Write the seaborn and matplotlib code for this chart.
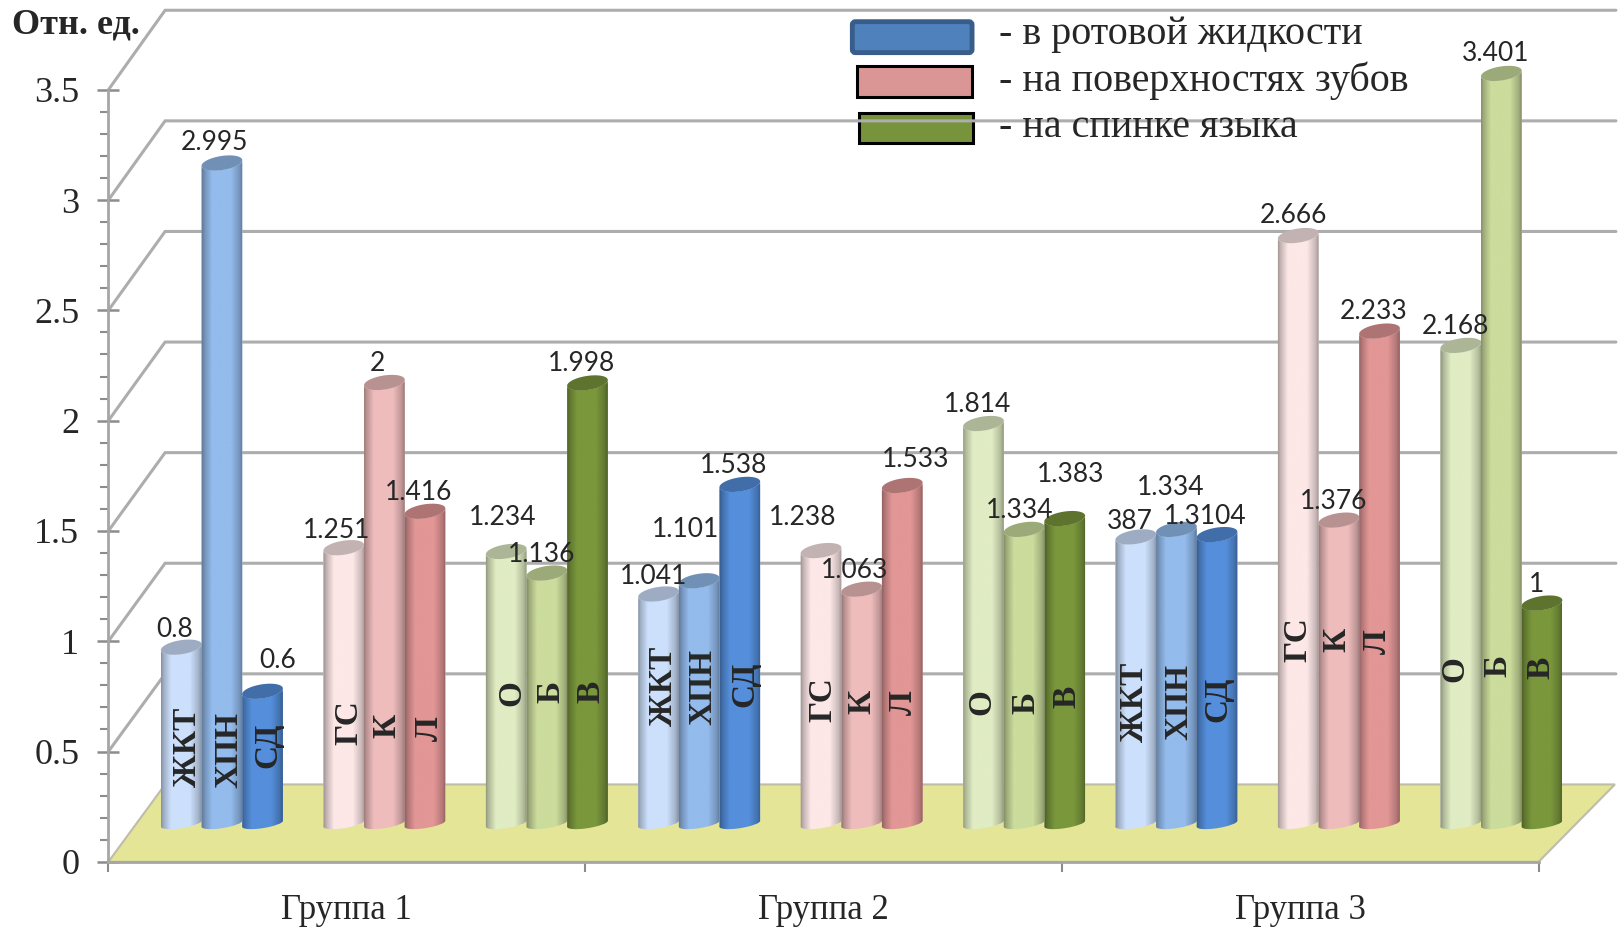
import numpy as np
import seaborn as sns
import matplotlib.pyplot as plt
from matplotlib.colors import to_rgb
from matplotlib.patches import Polygon, Rectangle, FancyBboxPatch
from matplotlib.ticker import MultipleLocator

# values, left to right
values = [0.8, 2.995, 0.6, 1.251, 2, 1.416, 1.234, 1.136, 1.998,
          1.041, 1.101, 1.538, 1.238, 1.063, 1.533, 1.814, 1.334, 1.383,
          1.30, 1.334, 1.3104, 2.666, 1.376, 2.233, 2.168, 3.401, 1]
value_labels = ['0.8', '2.995', '0.6', '1.251', '2', '1.416', '1.234', '1.136', '1.998',
                '1.041', '1.101', '1.538', '1.238', '1.063', '1.533', '1.814', '1.334', '1.383',
                '387', '1.334', '1.3104', '2.666', '1.376', '2.233', '2.168', '3.401', '1']
bar_names = ['ЖКТ', 'ХПН', 'СД', 'ГС', 'К', 'Л', 'О', 'Б', 'В']
groups = ['Группа 1', 'Группа 2', 'Группа 3']
legend_labels = ['- в ротовой жидкости', '- на поверхностях зубов', '- на спинке языка']
y_ticks = ['0', '0.5', '1', '1.5', '2', '2.5', '3', '3.5']
colors = ['#CCE0FC', '#93BBEC', '#558FDC', '#FDE7E7', '#EFBCBC', '#E29696',
          '#E0ECC3', '#CBDC9C', '#7A973C']

# label nudges from the bar top, in reference pixels
label_dx = [-6, -7, 15, -6.5, -6.5, -6, -3.5, -5.5, -6, -5, -13, -6, -18, -6.5, 12.5,
            -5.5, -4.5, 6, -6, -5.5, -11.5, -5, -5.5, -6, -5.5, -5.5, -5]
label_dy = [-22, -25, -35, -22, -23, -23, -38, -23, -24, -22, -55, -23, -37, -23, -30,
            -23, -23, -48, -20, -46, -23, -24, -23, -24, -23.5, -24, -23]
name_xy = [(182, 724), (222, 727), (260, 722), (338, 700), (375, 703), (416, 706),
           (496, 671), (534, 670), (573, 670), (643, 665), (681, 666), (722, 663),
           (797, 678), (835, 680), (875, 681), (952, 680), (994, 681), (1034, 675),
           (1099, 680), (1142, 680), (1180, 677), (1258, 620), (1296, 620), (1335, 622),
           (1410, 648), (1452, 645), (1493, 647)]

sns.set_style('white')
plt.rcParams['font.family'] = ['Liberation Serif', 'DejaVu Serif']

W, H = 1568, 902
fig = plt.figure(figsize=(16.18, 9.31), dpi=100)


def box(x0, y0, x1, y1):
    # rectangle in reference pixels -> figure fractions
    return [x0 / W, 1 - y1 / H, (x1 - x0) / W, (y1 - y0) / H]


# wall and floor
bg = fig.add_axes([0, 0, 1, 1], zorder=0)
bg.set_xlim(0, W)
bg.set_ylim(H, 0)
bg.axis('off')
bg.add_patch(Polygon([(105, 835), (160, 760), (1565, 760), (1491, 835)],
                     fc='#E5E597', ec='#BDBDA8', lw=1.5, zorder=1))
for i in range(1, len(y_ticks)):
    yf = 835 - i * 106.85
    yb = 760 - i * 107.15
    bg.plot([105, 160, 1566], [yf, yb, yb], color='#ADADAD', lw=2.2, zorder=3,
            solid_joinstyle='miter')

# legend swatches
bg.add_patch(FancyBboxPatch((828, 23), 112, 26, boxstyle='round,pad=2,rounding_size=3',
                            fc='#4F81BD', ec='#385D8A', lw=3.5, zorder=2))
bg.add_patch(Rectangle((831, 64), 111, 30, fc='#D99694', ec='black', lw=2.2, zorder=2))
bg.add_patch(Rectangle((832, 109), 111, 30, fc='#77933C', ec='black', lw=2.2, zorder=2))

# front axis
ax0 = fig.add_axes(box(105, 87, 1491, 835), zorder=1)
ax0.patch.set_alpha(0)
ax0.set_xlim(0, 3)
ax0.set_ylim(0, 3.5)
ax0.set_yticks(np.arange(0, 3.6, 0.5))
ax0.set_yticklabels(y_ticks, family='Liberation Serif')
ax0.yaxis.set_minor_locator(MultipleLocator(0.1))
ax0.set_xticks([0, 1, 2, 3])
ax0.set_xticklabels([])
ax0.set_xticks([0.5, 1.5, 2.5], minor=True)
ax0.set_xticklabels(groups, minor=True, fontsize=25, family='Liberation Serif')
ax0.tick_params(axis='x', which='major', length=7, width=1.5, color='#8C8C8C',
                direction='out', bottom=True)
ax0.tick_params(axis='x', which='minor', length=0, pad=23)
ax0.tick_params(axis='y', which='major', length=16, width=1.8, color='#8C8C8C',
                direction='inout', labelsize=26, pad=13, left=True)
ax0.tick_params(axis='y', which='minor', length=6, width=1.5, color='#8C8C8C',
                direction='out', left=True)
for s in ['top', 'right']:
    ax0.spines[s].set_visible(False)
for s in ['left', 'bottom']:
    ax0.spines[s].set_color('#A6A6A6')
    ax0.spines[s].set_linewidth(2)

# bars
positions = []
for i in range(9):
    for j in range(3):
        positions.append(i * 4 - (i // 3) * 0.25 + j)

base = 798
below = 0.05
ax = fig.add_axes(box(156, base - 748, 1514, base + below * 213.7), zorder=2)
ax.patch.set_alpha(0)
shade_names = [bar_names[i % 9] for i in range(27)]
sns.barplot(x=positions, y=values, hue=shade_names, hue_order=bar_names,
            palette=dict(zip(bar_names, colors)), dodge=False, native_scale=True,
            width=1, saturation=1, legend=False, ax=ax)
ax.set_xlim(-0.5, positions[-1] + 0.5)
ax.set_ylim(-below, 3.5)
ax.set_autoscale_on(False)
ax.axis('off')

# px per data unit on this axes
px_x = (1514 - 156) * (1618 / W) / (positions[-1] + 1)
px_y = 748 * (931 / H) / 3.5
tilt = np.radians(9)
rx = 20.6


def ellipse(cx, cy, t, ry=7):
    ex = rx * np.cos(t)
    ey = ry * np.sin(t)
    x = ex * np.cos(tilt) - ey * np.sin(tilt)
    y = ex * np.sin(tilt) + ey * np.cos(tilt)
    return cx + x / px_x, cy + y / px_y


u = np.linspace(0, 1, 64)
shade = np.interp(u, [0, 0.08, 0.25, 0.7, 0.9, 1], [0.62, 0.78, 1, 1, 0.8, 0.6])
lower = np.linspace(np.pi, 2 * np.pi, 40)
whole = np.linspace(0, 2 * np.pi, 80)

bars = sorted([p for p in ax.patches], key=lambda p: p.get_x())
for i, bar in enumerate(bars):
    cx = bar.get_x() + bar.get_width() / 2
    top = bar.get_height()
    rgb = np.array(to_rgb(colors[i % 9]))
    xb, yb = ellipse(cx, 0, lower, ry=4.5)
    xt, yt = ellipse(cx, top, lower[::-1])
    outline = Polygon(np.column_stack([np.r_[xb, xt], np.r_[yb, yt]]), closed=True,
                      transform=ax.transData, fc='none', ec='none')
    bar.set_zorder(10 + i)
    bar.set_clip_path(outline)
    strip = (shade[:, None] * rgb)[None, :, :]
    im = ax.imshow(strip, extent=[cx - 0.52, cx + 0.52, -below, top + 0.05], aspect='auto',
                   interpolation='bilinear', zorder=10 + i + 0.1)
    im.set_clip_path(outline)
    xe, ye = ellipse(cx, top, whole)
    ax.fill(xe, ye, color=rgb * 0.77, lw=0, zorder=10 + i + 0.2, clip_on=False)
    ax.annotate(value_labels[i], (cx, top),
                xytext=(label_dx[i] * 1618 / W, -(label_dy[i] + 5) * 1618 / W),
                textcoords='offset pixels', ha='center', va='center',
                family='Lato', fontsize=19, zorder=100, annotation_clip=False)

# names on the bars
for i, (x, y) in enumerate(name_xy):
    fig.text(x / W, 1 - y / H, bar_names[i % 9], rotation=90, ha='center', va='center',
             fontsize=24, fontweight='bold')

fig.text(12 / W, 1 - 24 / H, 'Отн. ед.', fontsize=26, fontweight='bold', va='center')
for y, txt in zip([33, 78, 124], legend_labels):
    fig.text(968 / W, 1 - y / H, txt, fontsize=28.8, va='center')

fig.savefig('out.png', dpi=100)
